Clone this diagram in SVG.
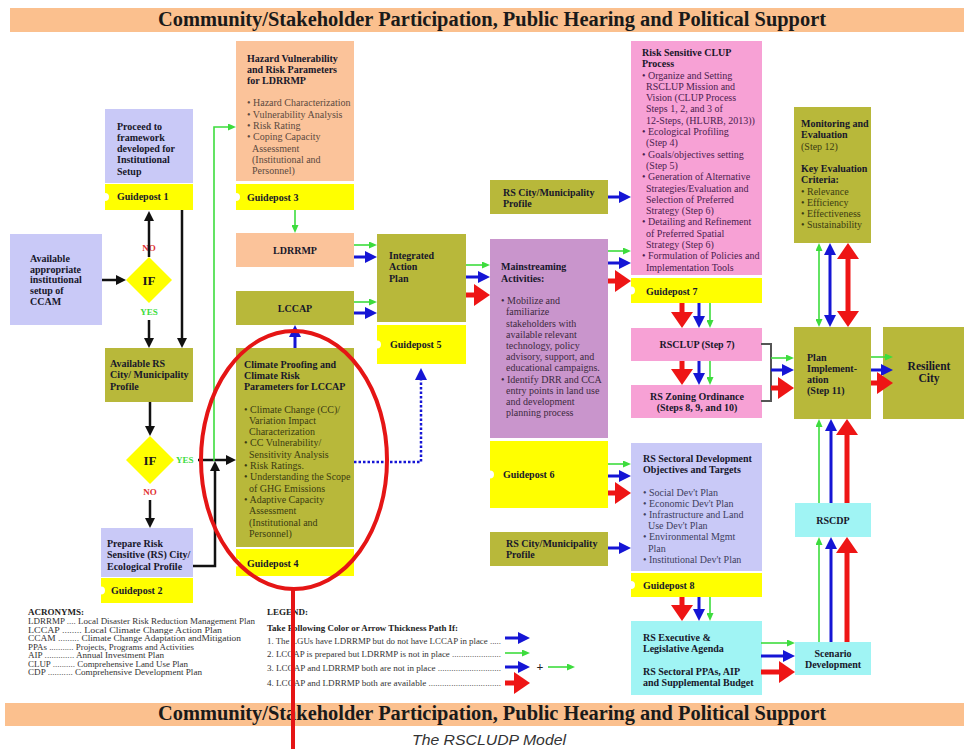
<svg xmlns="http://www.w3.org/2000/svg" width="964" height="749" viewBox="0 0 964 749">
<style>
text{font-family:"Liberation Serif","Times New Roman",serif;font-size:10px;fill:#2a2a2a}
.h{font-weight:bold;fill:#17172a}
.c{text-anchor:middle}
.peach{fill:#fbc39a}
.lav{fill:#c9c9f7}
.olv{fill:#b8b83a}
.pink{fill:#f7a1d5}
.pur{fill:#c995cc}
.cyan{fill:#a0f4f4}
.gp{fill:#ffff00}
.tp{fill:#5b4a40}
.to{fill:#3b3b12}
.tk{fill:#4b1d4f}
.tu{fill:#3d2a40}
.tl{fill:#404060}
.ban{fill:#fbc08e}
.bt{font-weight:bold;font-size:20px;fill:#1a1a1a}
.gn{fill:none;stroke:#3ddc3d;stroke-width:1.6;marker-end:url(#mg)}
.bl{fill:none;stroke:#1515d5;stroke-width:3;marker-end:url(#mb)}
.rd{fill:none;stroke:#ee1515;stroke-width:5;marker-end:url(#mr)}
.bk{fill:none;stroke:#111;stroke-width:2.5;marker-end:url(#mk)}
.gn2{marker-start:url(#mg)}
.bl2{marker-start:url(#mb)}
.rd2{marker-start:url(#mr)}
.dot{fill:none;stroke:#1515d5;stroke-width:2.5;stroke-dasharray:2.5 2;marker-end:url(#mb)}
.if{font-weight:bold;font-size:13px;fill:#1a1a1a}
.no{font-weight:bold;font-size:9px;fill:#e03030}
.yes{font-weight:bold;font-size:9px;fill:#3ddc3d}
.sm{font-size:9px;fill:#333}
.smb{font-size:9px;font-weight:bold;fill:#222}
</style>
<defs>
<marker id="mg" markerUnits="userSpaceOnUse" markerWidth="8" markerHeight="7" refX="0" refY="3.5" orient="auto-start-reverse"><path d="M0,0 L8,3.5 L0,7 z" fill="#3ddc3d"/></marker>
<marker id="mb" markerUnits="userSpaceOnUse" markerWidth="12" markerHeight="12" refX="0" refY="6" orient="auto-start-reverse"><path d="M0,0 L12,6 L0,12 z" fill="#1515d5"/></marker>
<marker id="mr" markerUnits="userSpaceOnUse" markerWidth="16" markerHeight="22" refX="0" refY="11" orient="auto-start-reverse"><path d="M0,0 L16,11 L0,22 z" fill="#ee1515"/></marker>
<marker id="mk" markerUnits="userSpaceOnUse" markerWidth="10" markerHeight="10" refX="0" refY="5" orient="auto"><path d="M0,0 L10,5 L0,10 z" fill="#111"/></marker>
</defs>
<rect width="964" height="749" fill="#ffffff"/>

<g id="banner-top">
<rect x="10" y="8" width="954" height="24" class="ban"/>
<text x="492" y="26" class="bt c" textLength="668" lengthAdjust="spacingAndGlyphs">Community/Stakeholder Participation, Public Hearing and Political Support</text>
</g>
<g id="banner-bottom">
<rect x="5" y="703" width="959" height="23" class="ban"/>
<text x="492" y="720" class="bt c" textLength="668" lengthAdjust="spacingAndGlyphs">Community/Stakeholder Participation, Public Hearing and Political Support</text>
</g>
<text x="489" y="745" class="c" style="font-family:'Liberation Sans',Arial,sans-serif;font-style:italic;font-size:15px;fill:#333" textLength="154" lengthAdjust="spacingAndGlyphs">The RSCLUDP Model</text>

<g id="node-proceed">
<rect x="105" y="109" width="88" height="74" class="lav"/>
<text class="h"><tspan x="117" y="129.5">Proceed to</tspan><tspan x="117" y="140.8">framework</tspan><tspan x="117" y="152">developed for</tspan><tspan x="117" y="163.3">Institutional</tspan><tspan x="117" y="174.5">Setup</tspan></text>
</g>
<g id="guidepost1"><path d="M105,184H193V210H105V201A4,4 0 0 0 105,193Z" class="gp"/><text x="117" y="200" class="h">Guidepost 1</text></g>

<g id="node-ccam">
<rect x="10" y="234" width="92" height="91" class="lav"/>
<text class="h"><tspan x="30" y="262">Available</tspan><tspan x="30" y="272.7">appropriate</tspan><tspan x="30" y="283.4">institutional</tspan><tspan x="30" y="294.1">setup of</tspan><tspan x="30" y="304.8">CCAM</tspan></text>
</g>

<g id="if1">
<polygon points="149,257 172,280 149,303 126,280" class="gp"/>
<text x="149" y="284.5" class="if c">IF</text>
<text x="149" y="251" class="no c">NO</text>
<text x="149" y="315" class="yes c">YES</text>
</g>

<g id="node-available-rs">
<rect x="105" y="348" width="88" height="54" class="olv"/>
<text class="h"><tspan x="110" y="366.5">Available RS</tspan><tspan x="110" y="378">City/ Municipality</tspan><tspan x="110" y="389.5">Profile</tspan></text>
</g>

<g id="if2">
<polygon points="150,436 174,460 150,484 126,460" class="gp"/>
<text x="150" y="464.5" class="if c">IF</text>
<text x="176" y="463" class="yes">YES</text>
<text x="150" y="495" class="no c">NO</text>
</g>

<g id="node-prepare">
<rect x="101" y="528" width="92" height="49" class="lav"/>
<text class="h"><tspan x="107" y="546.5">Prepare Risk</tspan><tspan x="107" y="558">Sensitive (RS) City/</tspan><tspan x="107" y="569.5">Ecological Profile</tspan></text>
</g>
<g id="guidepost2"><path d="M101,578H193V603H101V594.5A4,4 0 0 0 101,586.5Z" class="gp"/><text x="111" y="594" class="h">Guidepost 2</text></g>

<g id="node-hazard">
<rect x="236" y="41" width="118" height="140" class="peach"/>
<text class="h"><tspan x="247" y="61.5">Hazard Vulnerability</tspan><tspan x="247" y="72.5">and Risk Parameters</tspan><tspan x="247" y="83.5">for LDRRMP</tspan></text>
<text class="tp"><tspan x="247" y="106">• Hazard Characterization</tspan><tspan x="247" y="117.5">• Vulnerability Analysis</tspan><tspan x="247" y="129">• Risk Rating</tspan><tspan x="247" y="140.3">• Coping Capacity</tspan><tspan x="252" y="151.7">Assessment</tspan><tspan x="252" y="163">(Institutional and</tspan><tspan x="252" y="174.3">Personnel)</tspan></text>
</g>
<g id="guidepost3"><path d="M236,184H354V210H236V201A4,4 0 0 0 236,193Z" class="gp"/><text x="247" y="200.5" class="h">Guidepost 3</text></g>

<g id="node-ldrrmp"><rect x="236" y="233" width="118" height="34" class="peach"/><text x="295" y="253.5" class="h c">LDRRMP</text></g>
<g id="node-lccap"><rect x="236" y="291" width="118" height="34" class="olv"/><text x="295" y="311.5" class="h c">LCCAP</text></g>

<g id="node-iap">
<rect x="377" y="234" width="89" height="88" class="olv"/>
<text class="h"><tspan x="389" y="258.5">Integrated</tspan><tspan x="389" y="270">Action</tspan><tspan x="389" y="281.5">Plan</tspan></text>
</g>
<g id="guidepost5"><path d="M377,325H466V364H377V348.5A4,4 0 0 0 377,340.5Z" class="gp"/><text x="390" y="347.5" class="h">Guidepost 5</text></g>

<g id="node-climate-proofing">
<rect x="236" y="348" width="118" height="199" class="olv"/>
<text class="h"><tspan x="244" y="367.5">Climate Proofing and</tspan><tspan x="244" y="378.8">Climate Risk</tspan><tspan x="244" y="390.1">Parameters for LCCAP</tspan></text>
<text class="to"><tspan x="244" y="412.5">• Climate Change (CC)/</tspan><tspan x="249" y="423.8">Variation Impact</tspan><tspan x="249" y="435.1">Characterization</tspan><tspan x="244" y="446.4">• CC Vulnerability/</tspan><tspan x="249" y="457.7">Sensitivity Analysis</tspan><tspan x="244" y="469">• Risk Ratings.</tspan><tspan x="244" y="480.3">• Understanding the Scope</tspan><tspan x="249" y="491.6">of GHG Emissions</tspan><tspan x="244" y="502.9">• Adaptive Capacity</tspan><tspan x="249" y="514.2">Assessment</tspan><tspan x="249" y="525.5">(Institutional and</tspan><tspan x="249" y="536.8">Personnel)</tspan></text>
</g>
<g id="guidepost4"><path d="M236,549H354V576H236V566.5A4,4 0 0 0 236,558.5Z" class="gp"/><text x="247" y="566.5" class="h">Guidepost 4</text></g>

<g id="node-rs-profile-1">
<rect x="490" y="180" width="118" height="34" class="olv"/>
<text class="h"><tspan x="503" y="195.5">RS City/Municipality</tspan><tspan x="503" y="206.8">Profile</tspan></text>
</g>

<g id="node-clup">
<rect x="631" y="41" width="131" height="234" class="pink"/>
<text class="h"><tspan x="642" y="56.2">Risk Sensitive CLUP</tspan><tspan x="642" y="66.8">Process</tspan></text>
<text class="tk"><tspan x="642" y="78.5">• Organize and Setting</tspan><tspan x="646" y="89.8">RSCLUP Mission and</tspan><tspan x="646" y="101.1">Vision (CLUP Process</tspan><tspan x="646" y="112.4">Steps 1, 2, and 3 of</tspan><tspan x="646" y="123.7">12-Steps, (HLURB, 2013))</tspan><tspan x="642" y="135">• Ecological Profiling</tspan><tspan x="646" y="146.3">(Step 4)</tspan><tspan x="642" y="157.6">• Goals/objectives setting</tspan><tspan x="646" y="168.9">(Step 5)</tspan><tspan x="642" y="180.2">• Generation of Alternative</tspan><tspan x="646" y="191.5">Strategies/Evaluation and</tspan><tspan x="646" y="202.8">Selection of Preferred</tspan><tspan x="646" y="214.1">Strategy (Step 6)</tspan><tspan x="642" y="225.4">• Detailing and Refinement</tspan><tspan x="646" y="236.7">of  Preferred Spatial</tspan><tspan x="646" y="248">Strategy (Step 6)</tspan><tspan x="642" y="259.3">• Formulation of Policies and</tspan><tspan x="646" y="270.6">Implementation Tools</tspan></text>
</g>
<g id="guidepost7"><path d="M631,278H762V303H631V294.5A4,4 0 0 0 631,286.5Z" class="gp"/><text x="646" y="294.5" class="h">Guidepost 7</text></g>

<g id="node-mainstreaming">
<rect x="490" y="239" width="118" height="199" class="pur"/>
<text class="h"><tspan x="501" y="269.5">Mainstreaming</tspan><tspan x="501" y="281.5">Activities:</tspan></text>
<text class="tu"><tspan x="501" y="304.2">• Mobilize and</tspan><tspan x="506" y="315.4">familiarize</tspan><tspan x="506" y="326.6">stakeholders with</tspan><tspan x="506" y="337.8">available relevant</tspan><tspan x="506" y="349">technology, policy</tspan><tspan x="506" y="360.2">advisory, support, and</tspan><tspan x="506" y="371.4">educational campaigns.</tspan><tspan x="501" y="382.6">• Identify DRR and CCA</tspan><tspan x="506" y="393.8">entry points in land use</tspan><tspan x="506" y="405">and development</tspan><tspan x="506" y="416.2">planning process</tspan></text>
</g>

<g id="guidepost6"><path d="M490,441H608V508H490V478.5A4,4 0 0 0 490,470.5Z" class="gp"/><text x="503" y="477.5" class="h">Guidepost 6</text></g>

<g id="node-rs-profile-2">
<rect x="490" y="532" width="118" height="34" class="olv"/>
<text class="h"><tspan x="506" y="546.5">RS City/Municipality</tspan><tspan x="506" y="558">Profile</tspan></text>
</g>

<g id="node-rsclup"><rect x="631" y="328" width="131" height="33" class="pink"/><text x="697" y="347.5" class="h c">RSCLUP (Step 7)</text></g>
<g id="node-zoning">
<rect x="631" y="385" width="131" height="33" class="pink"/>
<text class="h c"><tspan x="697" y="399.5">RS Zoning Ordinance</tspan><tspan x="697" y="410.8">(Steps 8, 9, and 10)</tspan></text>
</g>

<g id="node-sectoral">
<rect x="631" y="443" width="131" height="128" class="lav"/>
<text class="h"><tspan x="643" y="461.5">RS Sectoral Development</tspan><tspan x="643" y="472.5">Objectives and Targets</tspan></text>
<text class="tl"><tspan x="643" y="495.5">• Social Dev't Plan</tspan><tspan x="643" y="506.7">• Economic Dev't Plan</tspan><tspan x="643" y="517.9">• Infrastructure and Land</tspan><tspan x="648" y="529.1">Use Dev't Plan</tspan><tspan x="643" y="540.3">• Environmental Mgmt</tspan><tspan x="648" y="551.5">Plan</tspan><tspan x="643" y="562.7">• Institutional Dev't Plan</tspan></text>
</g>
<g id="guidepost8"><path d="M631,573H762V597H631V589A4,4 0 0 0 631,581Z" class="gp"/><text x="643" y="588.5" class="h">Guidepost 8</text></g>

<g id="node-rs-executive">
<rect x="631" y="621" width="131" height="74" class="cyan"/>
<text class="h"><tspan x="643" y="640.5">RS Executive &amp;</tspan><tspan x="643" y="651.7">Legislative Agenda</tspan><tspan x="643" y="674.5">RS Sectoral PPAs, AIP</tspan><tspan x="643" y="685.7">and Supplemental Budget</tspan></text>
</g>

<g id="node-scenario">
<rect x="795" y="642" width="76" height="33" class="cyan"/>
<text class="h c"><tspan x="833" y="656.5">Scenario</tspan><tspan x="833" y="667.7">Development</tspan></text>
</g>
<g id="node-rscdp"><rect x="795" y="503" width="76" height="34" class="cyan"/><text x="833" y="523.5" class="h c">RSCDP</text></g>

<g id="node-plan-implementation">
<rect x="794" y="327" width="77" height="92" class="olv"/>
<text class="h"><tspan x="807" y="360.5">Plan</tspan><tspan x="807" y="371.7">Implement-</tspan><tspan x="807" y="382.9">ation</tspan><tspan x="807" y="394.1">(Step 11)</tspan></text>
</g>
<g id="node-resilient-city">
<rect x="883" y="327" width="81" height="92" class="olv"/>
<text class="h c" style="font-size:11.5px"><tspan x="929" y="370">Resilient</tspan><tspan x="929" y="382">City</tspan></text>
</g>

<g id="node-monitoring">
<rect x="794" y="107" width="77" height="136" class="olv"/>
<text class="h"><tspan x="801" y="126.5">Monitoring and</tspan><tspan x="801" y="137.7">Evaluation</tspan></text>
<text x="801" y="149.5" class="to">(Step 12)</text>
<text class="h"><tspan x="801" y="171.5">Key Evaluation</tspan><tspan x="801" y="182.7">Criteria:</tspan></text>
<text class="to"><tspan x="801" y="194.5">• Relevance</tspan><tspan x="801" y="205.7">• Efficiency</tspan><tspan x="801" y="216.9">• Effectiveness</tspan><tspan x="801" y="228.1">• Sustainability</tspan></text>
</g>

<g id="connectors">
<path class="bk" d="M102,280H116"/>
<path class="bk" d="M149,257V221"/>
<path class="bk" d="M182,210V338"/>
<path class="bk" d="M149,320V338"/>
<path class="bk" d="M150,402V426"/>
<path class="bk" d="M198,460H226"/>
<path class="bk" d="M150,500V518"/>
<path class="gn" d="M214,461V127H228"/>
<path class="bk" d="M193,566H215V471"/>

<path class="gn" d="M295,210V225"/>
<path class="gn" d="M354,245H369"/>
<path class="bl" d="M354,257H365"/>
<path class="gn" d="M354,302H369"/>
<path class="bl" d="M354,313H365"/>
<path class="bl" d="M295,348V337"/>
<path class="dot" d="M354,462H421V380"/>

<path class="gn" d="M466,265H482"/>
<path class="bl" d="M466,277H478"/>
<path class="rd" d="M466,295H474"/>

<path class="bl" d="M608,197H619"/>
<path class="gn" d="M608,251H623"/>
<path class="bl" d="M608,263H619"/>
<path class="rd" d="M608,281H615"/>

<path class="rd" d="M682,303V312"/>
<path class="bl" d="M699,303V316"/>
<path class="gn" d="M710,303V320"/>
<path class="rd" d="M682,361V369"/>
<path class="bl" d="M699,361V373"/>
<path class="gn" d="M710,361V377"/>

<path d="M761,344H771V401H761" fill="none" stroke="#555" stroke-width="2"/>
<path class="gn" d="M771,358H786"/>
<path class="bl" d="M771,370H782"/>
<path class="rd" d="M771,388H778"/>

<path class="gn" d="M871,357H885"/>
<path class="bl" d="M871,370H881"/>
<path class="rd" d="M871,383H877"/>

<path class="gn gn2" d="M819,251V319"/>
<path class="bl bl2" d="M830,255V315"/>
<path class="rd rd2" d="M848,259V311"/>

<path class="gn" d="M608,464H623"/>
<path class="bl" d="M608,476H619"/>
<path class="rd" d="M608,493H615"/>
<path class="bl" d="M608,548H619"/>

<path class="rd" d="M682,597V605"/>
<path class="bl" d="M699,597V609"/>
<path class="gn" d="M710,597V613"/>

<path class="gn" d="M761,643H787"/>
<path class="bl" d="M761,656H783"/>
<path class="rd" d="M761,672H779"/>

<path class="gn" d="M819,642V545"/>
<path class="bl" d="M831,642V549"/>
<path class="rd" d="M847,642V553"/>
<path class="gn" d="M819,503V427"/>
<path class="bl" d="M831,503V431"/>
<path class="rd" d="M847,503V435"/>
</g>

<g id="acronyms">
<text x="28" y="615" class="smb">ACRONYMS:</text>
<text x="28" y="624" class="sm" textLength="227" lengthAdjust="spacingAndGlyphs">LDRRMP .... Local Disaster Risk Reduction Management Plan</text>
<text x="28" y="632.5" class="sm" textLength="194" lengthAdjust="spacingAndGlyphs">LCCAP ........ Local Climate Change Action Plan</text>
<text x="28" y="641" class="sm" textLength="213" lengthAdjust="spacingAndGlyphs">CCAM ......... Climate Change Adaptation andMitigation</text>
<text x="28" y="649.5" class="sm" textLength="166" lengthAdjust="spacingAndGlyphs">PPAs ........... Projects, Programs and Activities</text>
<text x="28" y="658" class="sm" textLength="136" lengthAdjust="spacingAndGlyphs">AIP ............. Annual Investment Plan</text>
<text x="28" y="666.5" class="sm" textLength="160" lengthAdjust="spacingAndGlyphs">CLUP .......... Comprehensive Land Use Plan</text>
<text x="28" y="675" class="sm" textLength="174" lengthAdjust="spacingAndGlyphs">CDP ........... Comprehensive Development Plan</text>
</g>

<g id="legend">
<text x="267" y="615" class="smb">LEGEND:</text>
<text x="267" y="631" class="smb" textLength="191" lengthAdjust="spacingAndGlyphs">Take Following Color or Arrow Thickness Path If:</text>
<text x="267" y="644" class="sm" textLength="234" lengthAdjust="spacingAndGlyphs">1. The LGUs have LDRRMP but do not have LCCAP in place .....</text>
<text x="267" y="657" class="sm" textLength="234" lengthAdjust="spacingAndGlyphs">2. LCCAP is prepared but LDRRMP is not in place ......................</text>
<text x="267" y="671" class="sm" textLength="234" lengthAdjust="spacingAndGlyphs">3. LCCAP and LDRRMP both are not in place ............................</text>
<text x="267" y="686" class="sm" textLength="234" lengthAdjust="spacingAndGlyphs">4. LCCAP and LDRRMP both are available ................................</text>
<path class="bl" d="M505,638H518"/>
<path class="gn" d="M505,653H522"/>
<path class="bl" d="M505,667H518"/>
<text x="540" y="671" class="c" style="font-weight:bold;font-size:12px;fill:#222">+</text>
<path class="gn" d="M548,667H567"/>
<path class="rd" d="M505,683H514"/>
</g>

<g id="highlight">
<ellipse cx="294" cy="460" rx="93" ry="129" fill="none" stroke="#e51515" stroke-width="4"/>
<line x1="293" y1="589" x2="293" y2="749" stroke="#e51515" stroke-width="4"/>
</g>
</svg>
